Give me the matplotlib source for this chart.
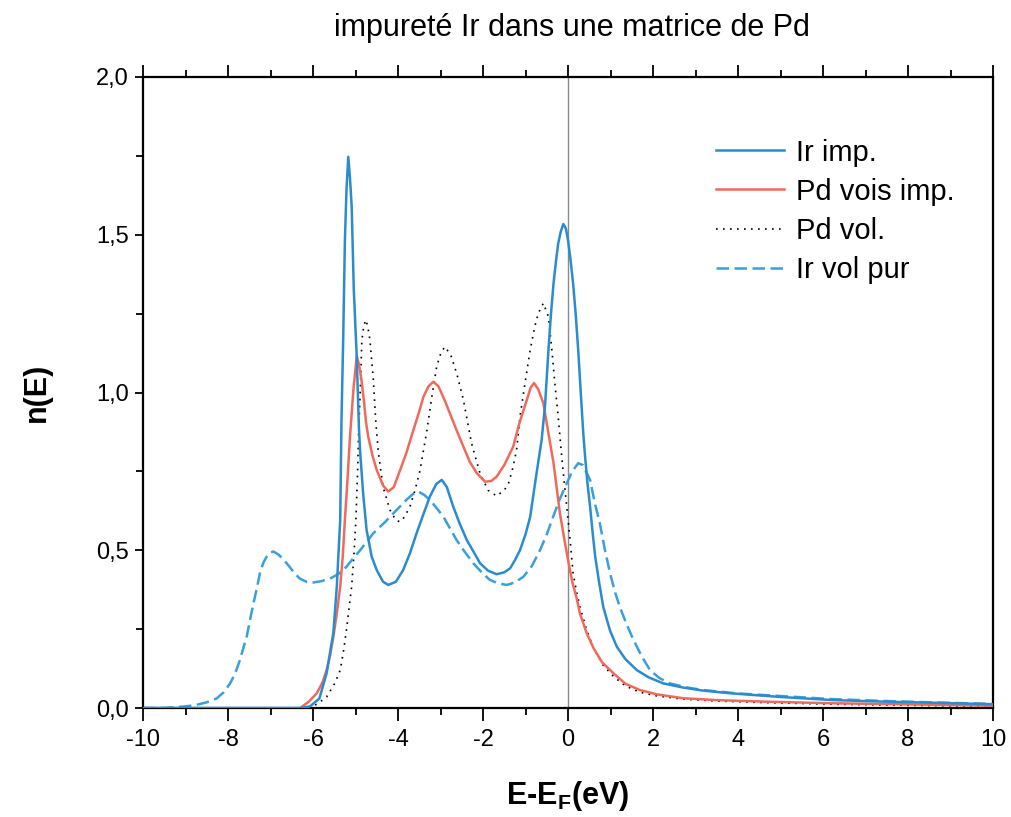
import matplotlib
matplotlib.use("Agg")
import matplotlib.pyplot as plt
from matplotlib.ticker import MultipleLocator, FuncFormatter

plt.rcParams['font.family'] = ['Liberation Sans', 'DejaVu Sans']
plt.rcParams['mathtext.fontset'] = 'custom'
plt.rcParams['mathtext.rm'] = 'Liberation Sans'
plt.rcParams['mathtext.bf'] = 'Liberation Sans:bold'

# ---------------- data ----------------
ir_imp_E = [-10, -6.3, -6.07, -5.85, -5.68, -5.52, -5.44, -5.36, -5.33, -5.29, -5.25, -5.21,
            -5.17, -5.13, -5.09, -5.04, -4.97, -4.92, -4.89, -4.82, -4.74, -4.62, -4.5, -4.35,
            -4.23, -4.05, -3.88, -3.72, -3.56, -3.4, -3.25, -3.1, -2.97, -2.85, -2.7, -2.55,
            -2.38, -2.2, -2.07, -1.88, -1.68, -1.5, -1.36, -1.25, -1.13, -1.0, -0.89, -0.74,
            -0.62, -0.54, -0.46, -0.4, -0.34, -0.28, -0.23, -0.17, -0.11, -0.05, 0.0, 0.06,
            0.12, 0.18, 0.24, 0.3, 0.36, 0.4, 0.46, 0.52, 0.58, 0.64, 0.73, 0.83, 0.99, 1.15,
            1.35, 1.62, 1.9, 2.24, 2.7, 3.18, 3.89, 5.0, 6.24, 7.5, 8.8, 10.0]
ir_imp_n = [0, 0, 0.005, 0.03, 0.11, 0.24, 0.385, 0.596, 0.91, 1.166, 1.48, 1.65,
            1.747, 1.68, 1.59, 1.325, 1.11, 0.89, 0.81, 0.68, 0.565, 0.48, 0.437, 0.40,
            0.39, 0.40, 0.437, 0.49, 0.555, 0.615, 0.67, 0.71, 0.723, 0.70, 0.638, 0.585,
            0.532, 0.49, 0.459, 0.435, 0.424, 0.43, 0.443, 0.468, 0.50, 0.55, 0.606, 0.744,
            0.85, 0.96, 1.135, 1.25, 1.346, 1.42, 1.473, 1.51, 1.534, 1.52, 1.483, 1.42,
            1.346, 1.25, 1.135, 1.0, 0.87, 0.80, 0.71, 0.638, 0.555, 0.48, 0.40, 0.32, 0.245, 0.194,
            0.155, 0.12, 0.097, 0.078, 0.065, 0.055, 0.046, 0.035, 0.025, 0.02, 0.016, 0.012]

pd_vois_E = [-6.3, -6.1, -5.91, -5.78, -5.68, -5.6, -5.52, -5.44, -5.36, -5.3, -5.25, -5.19,
             -5.13, -5.05, -4.97, -4.92, -4.86, -4.8, -4.75, -4.7, -4.6, -4.5, -4.35, -4.23,
             -4.1, -3.95, -3.8, -3.64, -3.5, -3.4, -3.28, -3.17, -3.05, -2.9, -2.78, -2.62,
             -2.46, -2.31, -2.15, -1.95, -1.8, -1.68, -1.5, -1.29, -1.15, -0.97, -0.88, -0.8,
             -0.7, -0.58, -0.46, -0.34, -0.19, -0.08, 0.0, 0.1, 0.2, 0.28, 0.44, 0.6, 0.8,
             1.07, 1.35, 1.69, 2.1, 2.71, 3.5, 4.67, 6.2, 7.81, 10.0]
pd_vois_n = [0, 0.02, 0.047, 0.08, 0.12, 0.165, 0.226, 0.3, 0.385, 0.48, 0.596, 0.72,
             0.86, 1.008, 1.116, 1.09, 1.04, 0.97, 0.903, 0.86, 0.80, 0.754, 0.705, 0.686,
             0.70, 0.754, 0.81, 0.88, 0.94, 0.987, 1.02, 1.034, 1.02, 0.975, 0.934, 0.88,
             0.828, 0.78, 0.745, 0.717, 0.72, 0.733, 0.77, 0.828, 0.90, 0.976, 1.015, 1.03,
             1.01, 0.966, 0.87, 0.776, 0.617, 0.53, 0.47, 0.40, 0.35, 0.30, 0.237, 0.19, 0.145,
             0.11, 0.077, 0.057, 0.043, 0.031, 0.025, 0.02, 0.015, 0.012, 0.007]

pd_vol_E = [-6.1, -5.91, -5.68, -5.48, -5.36, -5.29, -5.21, -5.15, -5.09, -5.03, -4.99, -4.95,
            -4.93, -4.89, -4.85, -4.8, -4.75, -4.7, -4.66, -4.58, -4.52, -4.46, -4.35, -4.19,
            -4.05, -3.95, -3.85, -3.72, -3.6, -3.48, -3.32, -3.2, -3.09, -2.98, -2.89, -2.75,
            -2.62, -2.46, -2.27, -2.07, -1.88, -1.68, -1.5, -1.4, -1.3, -1.21, -1.13, -1.0,
            -0.89, -0.78, -0.7, -0.58, -0.46, -0.38, -0.31, -0.23, -0.17, -0.11, -0.03, 0.05,
            0.12, 0.2, 0.28, 0.44, 0.6, 0.83, 1.07, 1.35, 1.69, 2.1, 2.71, 3.5, 4.67, 6.2,
            7.81, 10.0]
pd_vol_n = [0, 0.012, 0.035, 0.08, 0.12, 0.173, 0.25, 0.32, 0.385, 0.50, 0.60, 0.75,
            0.86, 1.0, 1.166, 1.215, 1.23, 1.20, 1.166, 1.04, 0.903, 0.807, 0.70, 0.628,
            0.595, 0.59, 0.605, 0.638, 0.69, 0.754, 0.88, 0.99, 1.082, 1.13, 1.145, 1.115,
            1.061, 0.976, 0.839, 0.744, 0.69, 0.672, 0.69, 0.712, 0.76, 0.818, 0.923, 1.04,
            1.135, 1.21, 1.251, 1.283, 1.24, 1.135, 1.03, 0.923, 0.83, 0.744, 0.638, 0.532,
            0.427, 0.37, 0.32, 0.247, 0.19, 0.135, 0.10, 0.07, 0.05, 0.038, 0.028, 0.022, 0.017, 0.012,
            0.009, 0.005]

ir_vol_E = [-10, -9.5, -9.0, -8.74, -8.5, -8.27, -8.1, -7.95, -7.83, -7.72, -7.64, -7.56,
            -7.48, -7.4, -7.32, -7.25, -7.17, -7.09, -7.0, -6.93, -6.8, -6.62, -6.45, -6.31,
            -6.15, -5.99, -5.8, -5.6, -5.4, -5.21, -5.05, -4.89, -4.58, -4.3, -4.03, -3.8,
            -3.65, -3.52, -3.38, -3.25, -3.1, -2.93, -2.78, -2.62, -2.43, -2.23, -2.03, -1.84,
            -1.64, -1.44, -1.25, -1.05, -0.85, -0.66, -0.5, -0.35, -0.2, -0.03, 0.1, 0.24,
            0.35, 0.52, 0.63, 0.75, 0.87, 0.99, 1.1, 1.22, 1.38, 1.54, 1.73, 1.93, 2.15, 2.4,
            2.8, 3.18, 4.0, 5.0, 6.24, 7.5, 8.8, 10.0]
ir_vol_n = [0, 0, 0.005, 0.01, 0.018, 0.03, 0.05, 0.078, 0.11, 0.152, 0.19, 0.226,
            0.28, 0.332, 0.38, 0.427, 0.46, 0.48, 0.493, 0.496, 0.485, 0.459, 0.43, 0.41,
            0.40, 0.398, 0.402, 0.41, 0.425, 0.448, 0.475, 0.50, 0.554, 0.59, 0.628, 0.66,
            0.678, 0.686, 0.675, 0.66, 0.635, 0.606, 0.57, 0.532, 0.495, 0.459, 0.43, 0.406,
            0.395, 0.39, 0.398, 0.416, 0.45, 0.50, 0.55, 0.606, 0.66, 0.712, 0.75, 0.776,
            0.77, 0.723, 0.65, 0.585, 0.50, 0.427, 0.37, 0.32, 0.265, 0.216, 0.165, 0.12, 0.095, 0.078,
            0.065, 0.057, 0.046, 0.038, 0.028, 0.022, 0.017, 0.013]

labels = ["Ir imp.", "Pd vois imp.", "Pd vol.", "Ir vol pur"]
title = "impureté Ir dans une matrice de Pd"

# ---------------- figure ----------------
fig = plt.figure(figsize=(10.11, 8.17), dpi=100)
ax = fig.add_axes([143/1011, 1-708/817, (993-143)/1011, (708-77)/817])

blue = '#2a8ccf'
blue2 = '#3a9fdc'
red = '#f06a5c'

common = dict(solid_joinstyle='round', dash_joinstyle='round')
ax.axvline(0, color='#8a8a8a', lw=1.0, zorder=1)
ax.plot(ir_imp_E, ir_imp_n, color=blue, lw=1.8, label=labels[0], zorder=4, **common)
ax.plot(pd_vois_E, pd_vois_n, color=red, lw=1.8, label=labels[1], zorder=3, **common)
ax.plot(pd_vol_E, pd_vol_n, color='black', lw=1.2, linestyle=(0, (1, 3.2)), label=labels[2], zorder=2)
ax.plot(ir_vol_E, ir_vol_n, color=blue2, lw=1.8, linestyle=(0, (5, 2.2)), label=labels[3], zorder=2, **common)

ax.set_xlim(-10, 10)
ax.set_ylim(0, 2.0)
ax.xaxis.set_major_locator(MultipleLocator(2))
ax.xaxis.set_minor_locator(MultipleLocator(1))
ax.yaxis.set_major_locator(MultipleLocator(0.5))
ax.yaxis.set_minor_locator(MultipleLocator(0.25))
ax.yaxis.set_major_formatter(FuncFormatter(lambda v, p: f"{v:.1f}".replace('.', ',')))
ax.xaxis.set_major_formatter(FuncFormatter(lambda v, p: f"{v:.0f}"))

for s in ax.spines.values():
    s.set_linewidth(1.6)

ax.tick_params(axis='x', which='both', direction='out', top=True, bottom=True,
               labeltop=False, labelsize=17, width=1.3, pad=6)
ax.tick_params(axis='x', which='major', length=9)
ax.tick_params(axis='x', which='minor', length=5)
ax.tick_params(axis='y', which='both', direction='out', left=True, right=False,
               labelsize=17, width=1.3, pad=4)
ax.tick_params(axis='y', which='major', length=6)
ax.tick_params(axis='y', which='minor', length=5)

ax.set_xlabel(r'E-E$_\mathbf{F}$(eV)', fontsize=22, fontweight='bold', labelpad=20)
ax.set_ylabel('n(E)', fontsize=22, fontweight='bold', labelpad=32)
fig.text(572/1011, 1-28/817, title, fontsize=22, ha='center', va='center')

leg = ax.legend(loc='upper left', bbox_to_anchor=(701/1011, 1-124/817),
                bbox_transform=fig.transFigure, frameon=False, fontsize=21,
                handlelength=2.35, handletextpad=0.4, labelspacing=0.38, borderpad=0)

fig.savefig('out.png', dpi=100)
